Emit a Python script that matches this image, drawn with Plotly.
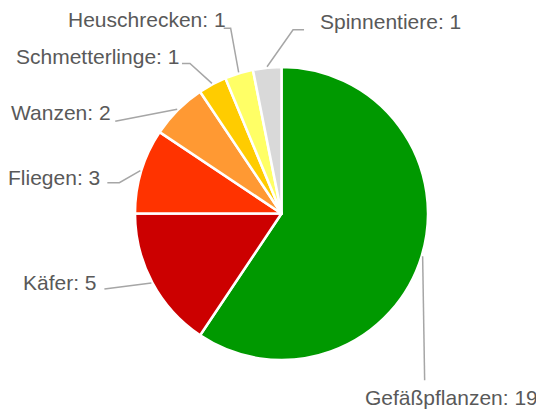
import math

import plotly.graph_objects as go

# Data
labels = ["Gefäßpflanzen", "Käfer", "Fliegen", "Wanzen",
          "Schmetterlinge", "Heuschrecken", "Spinnentiere"]
values = [19, 5, 3, 2, 1, 1, 1]
colors = ["#009900", "#CC0000", "#FF3300", "#FF9933",
          "#FFCC00", "#FFFF66", "#D9D9D9"]

W, H = 544, 410
PAGE_PAD = 8  # the page body adds an 8px margin around the figure
CX, CY, R = 281.5 - PAGE_PAD, 213.5 - PAGE_PAD, 146.5  # pie centre / radius

# label placement (px, relative to the slice's outer midpoint)
text_offset = {
    "Gefäßpflanzen": (29, 141, "center"),
    "Käfer": (-52, -1, "right"),
    "Fliegen": (-38, 7, "right"),
    "Wanzen": (-64, 3, "right"),
    "Schmetterlinge": (-31, -27, "right"),
    "Heuschrecken": (-11, -53, "right"),
    "Spinnentiere": (51, -45, "left"),
}
leader_bends = {
    "Gefäßpflanzen": [(2, 124)],
    "Käfer": [(-47, 6)],
    "Fliegen": [(-21, 12), (-33, 12)],
    "Wanzen": [(-62, 12)],
    "Schmetterlinge": [(-22, -20), (-30, -20)],
    "Heuschrecken": [(-8, -44), (-15, -44)],
    "Spinnentiere": [(26, -37), (37, -37)],
}


def px(x, y):
    return x / W, 1 - y / H


fig = go.Figure(
    go.Pie(
        labels=labels,
        values=values,
        sort=False,
        direction="clockwise",
        rotation=0,
        marker=dict(colors=colors, line=dict(color="white", width=2.5)),
        textinfo="none",
        hoverinfo="label+value",
        domain=dict(x=[(CX - R) / W, (CX + R) / W],
                    y=[1 - (CY + R) / H, 1 - (CY - R) / H]),
    )
)

total = sum(values)
cum = 0
for name, v in zip(labels, values):
    mid = (cum + v / 2) / total
    cum += v
    theta = math.radians(90 - 360 * mid)
    ex = CX + (R + 1) * math.cos(theta)
    ey = CY - (R + 1) * math.sin(theta)

    pts = [(ex, ey)] + [(ex + dx, ey + dy) for dx, dy in leader_bends[name]]
    path = "M " + " L ".join(
        "{:.4f},{:.4f}".format(*px(x, y)) for x, y in pts
    )
    fig.add_shape(type="path", path=path, xref="paper", yref="paper",
                  line=dict(color="#A6A6A6", width=1.5))

    tdx, tdy, anchor = text_offset[name]
    ax, ay = px(ex + tdx, ey + tdy)
    fig.add_annotation(
        x=ax, y=ay, xref="paper", yref="paper",
        text=f"{name}: {v}", showarrow=False,
        xanchor=anchor, yanchor="middle",
        font=dict(family="Liberation Sans", size=21, color="#595959"),
    )

fig.update_layout(
    width=W,
    height=H,
    margin=dict(l=0, r=0, t=0, b=0),
    showlegend=False,
    paper_bgcolor="white",
    plot_bgcolor="white",
)

fig.write_html("out.html")
